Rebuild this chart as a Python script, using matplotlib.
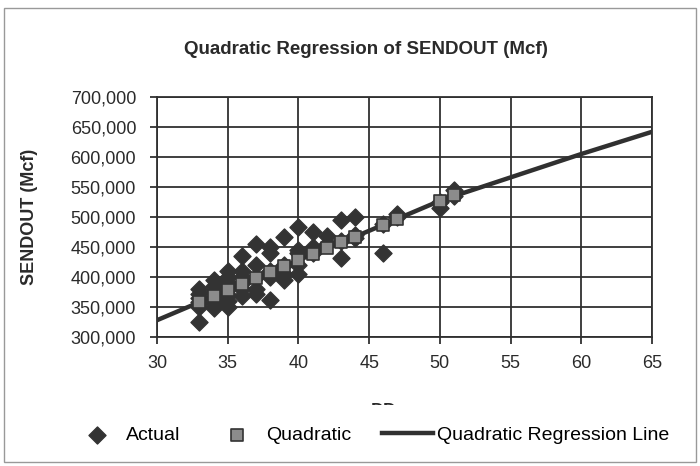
import matplotlib
matplotlib.use("Agg")
import matplotlib.pyplot as plt
from matplotlib.patches import Rectangle
from matplotlib.ticker import FuncFormatter, MultipleLocator

plt.rcParams["font.family"] = ["Liberation Sans", "DejaVu Sans"]

actual_dd = [33, 33, 33, 33, 33, 33,
             34, 34, 34, 34, 34, 34,
             35, 35, 35, 35, 35, 35, 35,
             36, 36, 36, 36, 36, 36,
             37, 37, 37, 37, 37,
             38, 38, 38, 38, 38,
             39, 39, 39, 39,
             40, 40, 40, 40, 40,
             41, 41, 41,
             42, 42,
             43, 43, 43,
             44, 44, 44,
             46, 46,
             47, 47,
             50, 50,
             51, 51]
actual_mcf = [325000, 350000, 358000, 365000, 372000, 380000,
              348000, 355000, 365000, 375000, 385000, 395000,
              350000, 360000, 370000, 380000, 390000, 400000, 410000,
              368000, 380000, 390000, 400000, 410000, 435000,
              372000, 380000, 400000, 420000, 455000,
              362000, 400000, 410000, 440000, 450000,
              395000, 405000, 420000, 467000,
              405000, 420000, 440000, 445000, 483000,
              440000, 450000, 475000,
              455000, 468000,
              432000, 460000, 495000,
              465000, 470000, 500000,
              440000, 488000,
              500000, 505000,
              515000, 525000,
              535000, 545000]

# fitted (quadratic) values at the observed DD
quad_dd = [33, 34, 35, 36, 37, 38, 39, 40, 41, 42, 43, 44, 46, 47, 50, 51]
quad_mcf = [358000, 368000, 378000, 388000, 398000, 408000, 418000, 428000,
            438000, 448000, 458000, 467000, 487000, 497000, 527000, 536000]

# regression curve read at every 5 DD
line_dd = [30, 35, 40, 45, 50, 55, 60, 65]
line_mcf = [328000, 378000, 428000, 477000, 527000, 566000, 605000, 642000]

INK = "#2a2a2a"

fig = plt.figure(figsize=(7.0, 4.66), dpi=100)
ax = fig.add_axes([157 / 700, 1 - 337 / 466, 495 / 700, 240 / 466])

ax.plot(line_dd, line_mcf, color="#303030", lw=3.2, zorder=3,
        label="Quadratic Regression Line")
ax.scatter(actual_dd, actual_mcf, marker="D", s=75, color="#333333",
           edgecolor="#333333", zorder=4, label="Actual")
ax.scatter(quad_dd, quad_mcf, marker="s", s=70, color="#8c8c8c",
           edgecolor="#333333", linewidth=1.2, zorder=5, label="Quadratic")

ax.set_xlim(30, 65)
ax.set_ylim(300000, 700000)
ax.xaxis.set_major_locator(MultipleLocator(5))
ax.yaxis.set_major_locator(MultipleLocator(50000))
ax.yaxis.set_major_formatter(FuncFormatter(lambda v, _: f"{v:,.0f}"))
ax.grid(True, color="#303030", lw=1.3)
ax.set_axisbelow(True)
for s in ax.spines.values():
    s.set_color("#303030")
    s.set_linewidth(1.3)
ax.tick_params(axis="both", labelsize=13, color="#303030", width=1.3,
               length=5, direction="out", labelcolor=INK)
ax.tick_params(axis="y", pad=10)
ax.tick_params(axis="x", pad=8)

ax.set_ylabel("SENDOUT (Mcf)", fontsize=13, fontweight="bold", color=INK)
ax.yaxis.set_label_coords(-0.24, 0.5)
fig.text(0.523, 1 - 50 / 466, "Quadratic Regression of SENDOUT (Mcf)",
         ha="center", va="center", fontsize=13.5, fontweight="bold", color=INK)

# x label, mostly hidden behind the legend strip as in the source
fig.text(0.548, 1 - 411 / 466, "DD", ha="center", va="center",
         fontsize=13, fontweight="bold", color=INK)
fig.patches.append(Rectangle((0.02, 0.04), 0.96, 1 - 405 / 466 - 0.04,
                             transform=fig.transFigure, facecolor="white",
                             edgecolor="none", zorder=4))

# handles order: Actual, Quadratic, line
h, l = ax.get_legend_handles_labels()
order = [l.index("Actual"), l.index("Quadratic"), l.index("Quadratic Regression Line")]
leg = fig.legend([h[i] for i in order], [l[i] for i in order],
                 loc="center", bbox_to_anchor=(0.529, 1 - 435 / 466), ncol=3,
                 fontsize=14, frameon=False, handlelength=2.6,
                 handletextpad=0.2, columnspacing=1.6, borderpad=0.3)
leg.set_zorder(5)

fig.patches.append(Rectangle((4 / 700, 4 / 466), 692 / 700, 454 / 466,
                             transform=fig.transFigure, fill=False,
                             edgecolor="#999999", lw=1.0, zorder=6))

fig.savefig("out.png", dpi=100)
